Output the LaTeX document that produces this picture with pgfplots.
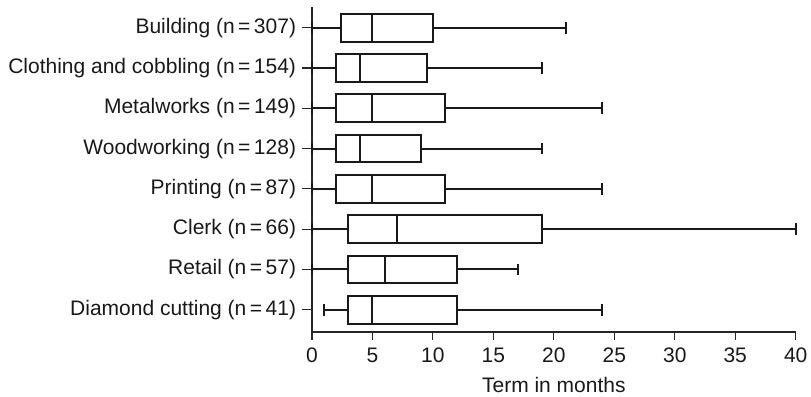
\documentclass[border=0pt]{standalone}
\usepackage{fontspec}
\setmainfont{Liberation Sans}
\usepackage{pgfplots}
\pgfplotsset{compat=1.18}
\usepgfplotslibrary{statistics}
\begin{document}
\fontsize{10.5pt}{12.6pt}\selectfont
\begin{tikzpicture}
\begin{axis}[
  at={(0,0)}, anchor=south west,
  scale only axis, width=241.85pt, height=162.5pt,
  xmin=0, xmax=40, ymin=0.447, ymax=8.514,
  axis x line*=bottom, axis y line*=left,
  axis line style={line width=0.55pt, black!85, -},
  xtick={0,5,...,40}, ytick={1,...,8},
  yticklabels={Diamond cutting (n\,=\,41), Retail (n\,=\,57), Clerk (n\,=\,66), Printing (n\,=\,87), Woodworking (n\,=\,128), Metalworks (n\,=\,149), Clothing and cobbling (n\,=\,154), Building (n\,=\,307)},
  tick align=outside,
  xtick style={line width=0.55pt, black!85},
  ytick style={line width=0.55pt, black!85},
  x tick style={/pgfplots/major tick length=3.8pt},
  y tick style={/pgfplots/major tick length=5pt},
  xlabel={Term in months},
  /pgf/number format/assume math mode=true,
  tick label style={font=\fontsize{10.5pt}{12pt}\selectfont, text=black!90},
  label style={font=\fontsize{10.5pt}{12pt}\selectfont, text=black!90},
  boxplot/draw direction=x,
  boxplot/box extend=0.69,
  boxplot/whisker extend=0.29,
  clip=false,
  bx/.style={draw=black!90, solid, line width=1pt, mark=none, fill=none},
]
\addplot[bx, boxplot prepared={draw position=8, lower whisker=0, lower quartile=2.4, median=5, upper quartile=10, upper whisker=21}] coordinates {};
\addplot[bx, boxplot prepared={draw position=7, lower whisker=0, lower quartile=2, median=4, upper quartile=9.5, upper whisker=19}] coordinates {};
\addplot[bx, boxplot prepared={draw position=6, lower whisker=0, lower quartile=2, median=5, upper quartile=11, upper whisker=24}] coordinates {};
\addplot[bx, boxplot prepared={draw position=5, lower whisker=0, lower quartile=2, median=4, upper quartile=9, upper whisker=19}] coordinates {};
\addplot[bx, boxplot prepared={draw position=4, lower whisker=0, lower quartile=2, median=5, upper quartile=11, upper whisker=24}] coordinates {};
\addplot[bx, boxplot prepared={draw position=3, lower whisker=0, lower quartile=3, median=7, upper quartile=19, upper whisker=40}] coordinates {};
\addplot[bx, boxplot prepared={draw position=2, lower whisker=0, lower quartile=3, median=6, upper quartile=12, upper whisker=17}] coordinates {};
\addplot[bx, boxplot prepared={draw position=1, lower whisker=1, lower quartile=3, median=5, upper quartile=12, upper whisker=24}] coordinates {};
\end{axis}
\pgfresetboundingbox
\useasboundingbox (-156pt,-32.5pt) rectangle (249.5pt,166pt);
\end{tikzpicture}
\end{document}
